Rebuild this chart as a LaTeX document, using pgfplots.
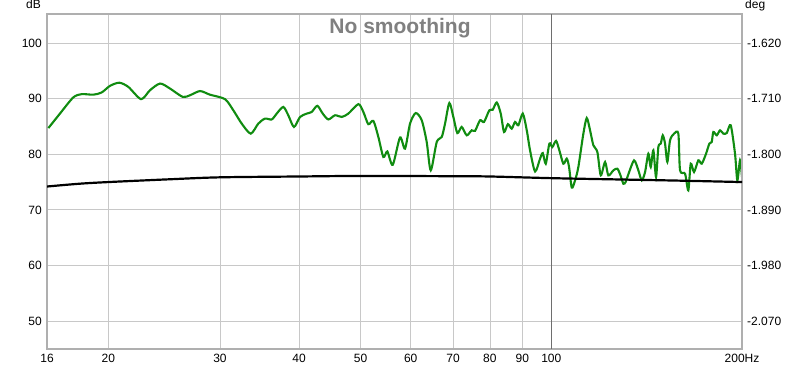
\documentclass[border=0pt]{standalone}
\usepackage{pgfplots}
\pgfplotsset{compat=1.18}
\usepackage{fontspec}
\setmainfont{Liberation Sans}
\definecolor{rewgreen}{RGB}{16,140,16}
\definecolor{gridgray}{RGB}{200,200,200}
\definecolor{framegray}{RGB}{175,175,175}
\definecolor{titlegray}{RGB}{128,128,128}
\definecolor{markgray}{RGB}{110,110,110}
\begin{document}
\fontsize{12bp}{14bp}\selectfont
\begin{tikzpicture}
\useasboundingbox (0,0) rectangle (800bp,370bp);
\begin{axis}[
  name=main,
  at={(47bp,21bp)}, anchor=south west,
  scale only axis, width=695bp, height=335bp,
  xmode=log, xmin=16, xmax=200,
  ymin=45, ymax=105.2,
  xtick={16,20,30,40,50,60,70,80,90,100,200},
  xticklabels={16,20,30,40,50,60,70,80,90,100,200Hz},
  extra x ticks={100}, extra x tick labels={},
  extra x tick style={grid style={markgray, line width=0.8bp}},
  ytick={50,60,70,80,90,100},
  grid=major, grid style={gridgray, line width=0.8bp},
  major tick length=0pt,
  axis line style={framegray, line width=1.6bp},
  tick label style={font=\fontsize{12bp}{14bp}\selectfont},
  /pgf/number format/assume math mode=true,
  yticklabel style={xshift=-1bp},
  xticklabel style={yshift=-1bp},
]
\addplot[rewgreen, line width=2.1bp, smooth, tension=0.45] table {
f db
16.08 84.7
16.77 87.3
17.60 90.2
18.15 90.8
18.93 90.7
19.52 91.1
20.12 92.3
20.81 92.85
21.50 92.1
22.52 89.9
23.26 91.5
24.13 92.7
25.02 91.8
26.20 90.3
26.90 90.6
27.90 91.35
28.93 90.7
30.55 89.9
31.49 87.9
32.47 85.5
33.55 83.7
34.48 85.5
35.33 86.4
36.21 86.25
36.87 87.3
37.76 88.5
38.46 87.0
39.26 84.9
40.13 86.7
41.12 87.3
41.87 87.6
42.73 88.7
43.58 87.3
44.47 86.25
45.57 87.0
46.69 86.7
47.83 87.3
49.60 89.0
50.51 87.6
51.43 85.4
52.38 86.0
53.34 83.1
54.32 79.5
55.11 80.5
56.20 78.1
57.71 83.0
58.77 81.0
59.85 85.5
61.10 87.4
62.45 86.1
63.59 82.2
64.53 77.1
65.95 82.2
67.16 83.1
67.97 85.5
69.04 89.2
70.05 86.7
71.08 83.8
72.22 84.9
73.55 83.4
74.89 84.3
75.80 84.2
77.19 86.1
78.32 85.8
79.84 87.9
80.83 88.0
82.02 89.3
83.22 87.3
84.22 84.0
85.40 85.4
86.61 84.6
87.66 85.8
88.72 85.2
90.15 87.3
91.47 84.3
92.57 80.7
94.27 76.9
96.00 79.2
96.95 80.2
98.01 78.3
99.30 81.9
100.39 81.3
101.75 82.4
102.97 80.7
104.48 78.3
105.78 79.2
106.67 77.7
107.72 74.0
109.02 75.3
110.33 77.7
112.36 83.7
113.75 86.5
115.13 84.3
116.52 81.6
118.22 80.4
119.69 76.2
121.58 78.6
123.04 76.2
125.30 77.1
127.13 77.4
128.50 76.3
129.94 74.7
131.00 75.0
132.32 76.4
135.09 78.9
137.22 77.1
138.92 75.3
140.60 76.8
142.30 80.1
143.54 77.7
144.91 80.7
146.33 75.9
147.56 81.3
148.85 81.9
149.94 83.4
151.20 81.9
152.47 78.6
153.97 82.5
156.23 83.7
158.69 83.7
159.67 77.1
162.59 76.5
164.55 73.5
166.00 78.3
168.00 76.8
170.65 78.9
172.77 78.3
175.49 80.1
177.61 81.9
179.16 82.2
180.21 84.0
182.45 83.4
184.66 84.3
186.89 83.7
189.21 83.8
191.97 85.2
194.99 80.1
196.63 75.3
198.57 78.9
200.00 75.9
};
\node[font=\bfseries\fontsize{21bp}{24bp}\selectfont, text=titlegray] at (rel axis cs:0.508,0.957) {No smoothing};
\end{axis}
\begin{axis}[
  at={(47bp,21bp)}, anchor=south west,
  scale only axis, width=695bp, height=335bp,
  xmode=log, xmin=16, xmax=200,
  ymin=-2.115, ymax=-1.5732,
  axis y line*=right, axis x line=none,
  ytick={-2.07,-1.98,-1.89,-1.8,-1.71,-1.62},
  yticklabels={-2.070,-1.980,-1.890,-1.800,-1.710,-1.620},
  major tick length=0pt,
  axis line style={framegray, line width=1.6bp},
  tick label style={font=\fontsize{12bp}{14bp}\selectfont},
  yticklabel style={anchor=west, xshift=1bp},
]
\addplot[black, line width=2.2bp, smooth] table {
f deg
16 -1.8522
18 -1.8477
20 -1.8450
25 -1.8405
30 -1.83735
40 -1.8360
50 -1.8351
70 -1.83555
80 -1.8360
100 -1.8387
130 -1.84095
160 -1.84275
200 -1.8450
};
\end{axis}
\node[anchor=base east, inner sep=0pt] at ([xshift=-6bp,yshift=5bp]main.north west) {dB};
\node[anchor=base west, inner sep=0pt] at ([xshift=3bp,yshift=5bp]main.north east) {deg};
\end{tikzpicture}
\end{document}
